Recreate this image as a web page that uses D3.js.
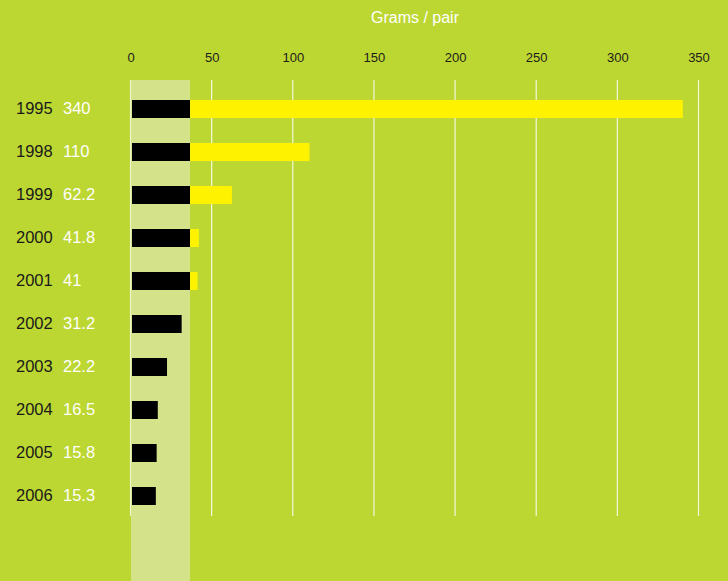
<!DOCTYPE html>
<html>
<head>
<meta charset="utf-8">
<script src="https://cdn.jsdelivr.net/npm/d3@7"></script>
<style>
  html, body { margin:0; padding:0; background:#bcd632; }
  svg { display:block; font-family:"Liberation Sans", Arial, Helvetica, sans-serif; }
</style>
</head>
<body>
<div id="chart"></div>
<script>
// data
const years = ["1995","1998","1999","2000","2001","2002","2003","2004","2005","2006"]
const grams = [340, 110, 62.2, 41.8, 41, 31.2, 22.2, 16.5, 15.8, 15.3]
const ticks = [0, 50, 100, 150, 200, 250, 300, 350]
const limit = 36.4 // pale band, part of bar drawn black
const title = "Grams / pair"

const data = years.map((y, i) => ({year: y, value: grams[i]}))

const render = (data) => {
  let positions = {width: 728, height: 581}
  let margin = {top: 80, left: 131, right: 29, bottom: 64}
  let plotH = positions.height - margin.top - margin.bottom

  const svg = d3.select("#chart").append("svg")
    .attr("width", positions.width).attr("height", positions.height)

  svg.append("rect").attr("width", positions.width).attr("height", positions.height).attr("fill", "#bcd632")

  const xScale = d3.scaleLinear().domain([0, 350]).range([margin.left, positions.width - margin.right])
  const yScale = d3.scaleBand()
    .domain(data.map(d => d.year))
    .range([margin.top + 7.5, margin.top + 7.5 + 430])
    .paddingInner(25 / 43)
    .paddingOuter(12.5 / 43)

  // pale band up to the limit
  svg.append("rect")
    .attr("x", xScale(0)).attr("y", margin.top)
    .attr("width", xScale(limit) - xScale(0))
    .attr("height", positions.height - margin.top)
    .attr("fill", "#d4e38a")

  // grid lines
  svg.append("g").selectAll("line").data(ticks).enter().append("line")
    .attr("x1", d => xScale(d) - 0.5).attr("x2", d => xScale(d) - 0.5)
    .attr("y1", margin.top).attr("y2", margin.top + plotH - 1)
    .attr("stroke", d => d == 0 ? "#eef4c8" : "#f4f8dc")
    .attr("stroke-width", 1.2)

  // tick labels
  svg.append("g").selectAll("text").data(ticks).enter().append("text")
    .attr("x", d => xScale(d)).attr("y", 62)
    .attr("text-anchor", "middle")
    .attr("font-size", "13px").attr("fill", "#1c1c1c")
    .text(d => d)

  svg.append("text")
    .attr("x", (xScale(0) + xScale(350)) / 2).attr("y", 23)
    .attr("text-anchor", "middle")
    .attr("font-size", "16px").attr("fill", "#ffffff")
    .text(title)

  let rows = svg.append("g").selectAll("g").data(data).enter().append("g")
    .attr("transform", d => `translate(0,${yScale(d.year)})`)

  rows.append("rect")
    .attr("x", xScale(0) + 1)
    .attr("width", d => xScale(Math.min(d.value, limit)) - xScale(0) - 1)
    .attr("height", yScale.bandwidth())
    .attr("fill", "#000000")

  rows.filter(d => d.value > limit).append("rect")
    .attr("x", xScale(limit))
    .attr("width", d => xScale(d.value) - xScale(limit))
    .attr("height", yScale.bandwidth())
    .attr("fill", "#fff200")

  let textY = yScale.bandwidth() / 2 + 4.5
  rows.append("text")
    .attr("x", 16).attr("y", textY)
    .attr("font-size", "16.5px").attr("fill", "#1a1a1a")
    .text(d => d.year)

  rows.append("text")
    .attr("x", 63).attr("y", textY)
    .attr("font-size", "16.5px").attr("fill", "#ffffff")
    .text(d => d.value)
}

render(data)
</script>
</body>
</html>
